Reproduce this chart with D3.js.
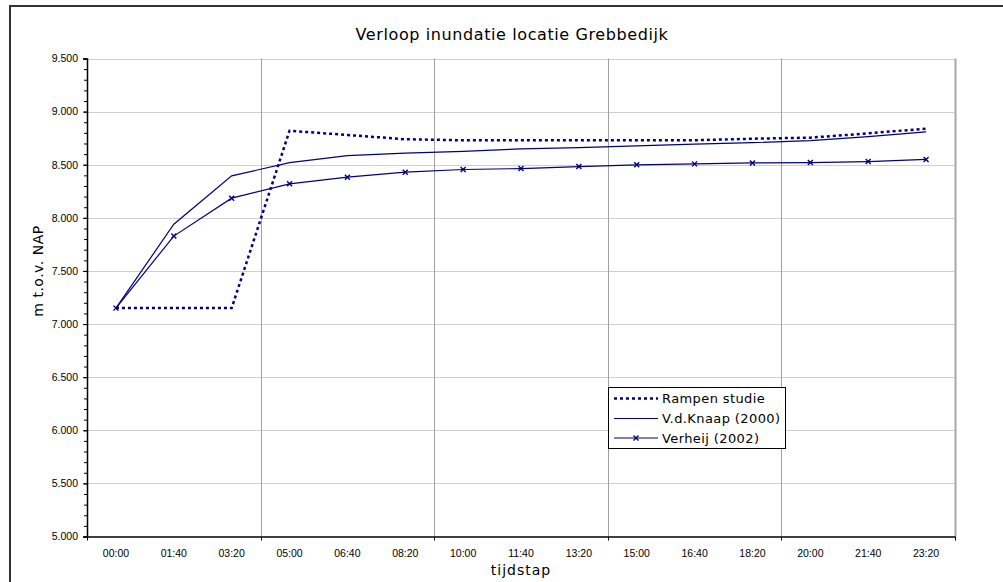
<!DOCTYPE html>
<html>
<head>
<meta charset="utf-8">
<script src="https://cdn.jsdelivr.net/npm/d3@7"></script>
<style>
  html, body { margin: 0; padding: 0; background: #fff; }
  svg { display: block; }
</style>
</head>
<body>
<script>
// ---- data ----
const categories = ["00:00","01:40","03:20","05:00","06:40","08:20","10:00","11:40","13:20","15:00","16:40","18:20","20:00","21:40","23:20"];
const rampenStudie = [7.15, 7.15, 7.15, 8.82, 8.78, 8.74, 8.73, 8.73, 8.73, 8.73, 8.73, 8.745, 8.755, 8.795, 8.84];
const vdKnaap = [7.15, 7.94, 8.395, 8.52, 8.586, 8.609, 8.625, 8.649, 8.661, 8.677, 8.693, 8.708, 8.727, 8.765, 8.809];
const verheij = [7.15, 7.828, 8.185, 8.32, 8.383, 8.43, 8.455, 8.464, 8.483, 8.499, 8.508, 8.517, 8.52, 8.53, 8.55];
const yTicks = [5.0, 5.5, 6.0, 6.5, 7.0, 7.5, 8.0, 8.5, 9.0, 9.5];
const seriesNames = ["Rampen studie", "V.d.Knaap (2000)", "Verheij (2002)"];
const title = "Verloop inundatie locatie Grebbedijk";
const xTitle = "tijdstap";
const yTitle = "m t.o.v. NAP";

// ---- layout ----
const W = 1003, H = 582;
const L = 87, R = 955, T = 58.5, B = 536.5;
const navy = "#000080";

const svg = d3.select("body").append("svg").attr("width", W).attr("height", H);

// outer frame
svg.append("rect").attr("x", 10).attr("y", 6).attr("width", 1000).attr("height", 600)
  .attr("fill", "none").attr("stroke", "#333").attr("stroke-width", 2);

const x = d3.scaleBand().domain(categories).range([L, R]);
const y = d3.scaleLinear().domain([5, 9.5]).range([B, T]);
const cx = c => x(c) + x.bandwidth() / 2;

// horizontal gridlines
svg.append("g").selectAll("line").data(yTicks.filter(v => v > 5)).join("line")
  .attr("x1", L).attr("x2", R)
  .attr("y1", d => Math.round(y(d)) + 0.5).attr("y2", d => Math.round(y(d)) + 0.5)
  .attr("stroke", "#cfcfcf").attr("stroke-width", 1);

// vertical gridlines every 3 categories
const vIdx = [3, 6, 9, 12, 15];
const bx = k => k < categories.length ? x(categories[k]) : x.range()[1];
svg.append("g").selectAll("line").data(vIdx).join("line")
  .attr("x1", d => Math.round(bx(d)) + 0.5).attr("x2", d => Math.round(bx(d)) + 0.5)
  .attr("y1", T).attr("y2", B)
  .attr("stroke", d => d === 15 ? "#a8a8a8" : "#a0a0a0")
  .attr("stroke-width", d => d === 15 ? 2 : 1);

// y axis (major)
const yAxis = d3.axisLeft(y).tickValues(yTicks).tickFormat(d3.format(".3f")).tickSize(4).tickPadding(5);
const gy = svg.append("g").attr("transform", `translate(${L},0)`).call(yAxis);
gy.select(".domain").attr("stroke", "#000").attr("stroke-width", 1.5);
gy.selectAll("text").attr("font-family", "Liberation Sans, Arial, sans-serif").attr("font-size", 10.5).attr("fill", "#000");
// minor ticks
const minor = d3.range(50, 96).map(v => v / 10);
const gym = svg.append("g").attr("transform", `translate(${L},0)`)
  .call(d3.axisLeft(y).tickValues(minor).tickFormat("").tickSize(3));
gym.select(".domain").remove();

// x axis
const gx = svg.append("g").attr("transform", `translate(0,${B})`)
  .call(d3.axisBottom(x).tickSize(0).tickPadding(13));
gx.select(".domain").attr("stroke", "#000").attr("stroke-width", 1.5);
gx.selectAll("text").attr("font-family", "Liberation Sans, Arial, sans-serif").attr("font-size", 10.5).attr("fill", "#000");
// x tick marks at gridline positions
svg.append("g").selectAll("line").data([0, 3, 6, 9, 12, 15]).join("line")
  .attr("x1", d => Math.round(bx(d)) + 0.5).attr("x2", d => Math.round(bx(d)) + 0.5)
  .attr("y1", B).attr("y2", B + 4).attr("stroke", "#000");

// lines
const line = vals => d3.line().x((d, i) => cx(categories[i])).y(d => y(d))(vals);
svg.append("path").attr("d", line(rampenStudie)).attr("fill", "none")
  .attr("stroke", navy).attr("stroke-width", 2.5).attr("stroke-dasharray", "3,3");
svg.append("path").attr("d", line(vdKnaap)).attr("fill", "none")
  .attr("stroke", navy).attr("stroke-width", 1.2);
svg.append("path").attr("d", line(verheij)).attr("fill", "none")
  .attr("stroke", navy).attr("stroke-width", 1.2);
const cross = "M-2.5,-2.5L2.5,2.5M-2.5,2.5L2.5,-2.5";
svg.append("g").selectAll("path").data(verheij).join("path")
  .attr("transform", (d, i) => `translate(${cx(categories[i])},${y(d)})`)
  .attr("d", cross).attr("stroke", navy).attr("stroke-width", 1.4).attr("fill", "none");

// title & axis titles
svg.append("text").attr("x", 512).attr("y", 40).attr("text-anchor", "middle")
  .attr("font-family", "DejaVu Sans, Verdana, sans-serif").attr("font-size", 16)
  .attr("letter-spacing", 0.6).text(title);
svg.append("text").attr("x", 521).attr("y", 575).attr("text-anchor", "middle")
  .attr("font-family", "DejaVu Sans, Verdana, sans-serif").attr("font-size", 14)
  .attr("letter-spacing", 1).text(xTitle);
svg.append("text").attr("transform", "translate(43,271) rotate(-90)").attr("text-anchor", "middle")
  .attr("font-family", "DejaVu Sans, Verdana, sans-serif").attr("font-size", 14)
  .attr("letter-spacing", 0.5).text(yTitle);

// legend
const lg = svg.append("g");
lg.append("rect").attr("x", 608.5).attr("y", 387.5).attr("width", 177).attr("height", 61)
  .attr("fill", "#fff").attr("stroke", "#000").attr("stroke-width", 1);
const rows = [398.5, 418.5, 438];
seriesNames.forEach((name, i) => {
  const ly = rows[i];
  const l = lg.append("line").attr("x1", 614).attr("x2", 658).attr("y1", ly).attr("y2", ly)
    .attr("stroke", navy).attr("stroke-width", i === 0 ? 2.5 : 1.2);
  if (i === 0) l.attr("stroke-dasharray", "3,3");
  if (i === 2) lg.append("path").attr("transform", `translate(636,${ly})`).attr("d", cross)
    .attr("stroke", navy).attr("stroke-width", 1.4);
  lg.append("text").attr("x", 662).attr("y", ly).attr("dy", "0.36em")
    .attr("font-family", "DejaVu Sans, Verdana, sans-serif").attr("font-size", 13)
    .attr("letter-spacing", 0.4).text(name);
});
</script>
</body>
</html>
